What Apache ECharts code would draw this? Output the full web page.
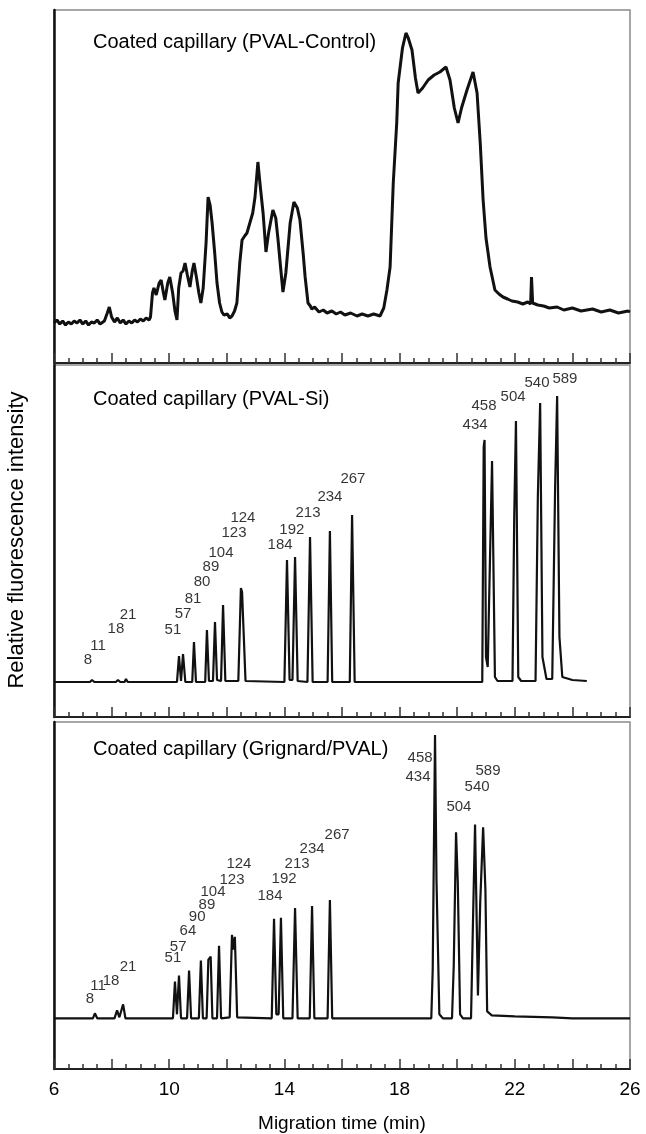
<!DOCTYPE html>
<html>
<head>
<meta charset="utf-8">
<script src="https://cdn.jsdelivr.net/npm/echarts@6/dist/echarts.min.js"></script>
<style>
html,body{margin:0;padding:0;background:#fff;}
#chart{width:646px;height:1134px;}
</style>
</head>
<body>
<div id="chart"></div>
<script>
// ---- data (migration time in min, relative intensity in arbitrary units) ----
const panelTitles = ['Coated capillary (PVAL-Control)', 'Coated capillary (PVAL-Si)', 'Coated capillary (Grignard/PVAL)'];
const xTickLabels = [6, 10, 14, 18, 22, 26];
const xAxisTitle = 'Migration time (min)';
const yAxisTitle = 'Relative fluorescence intensity';

const controlTrace = [
 [6.0,40],[6.1,43],[6.2,39],[6.3,42],[6.4,38],[6.5,41],[6.6,39],[6.7,42],[6.8,40],[6.9,43],[7.0,39],[7.1,42],[7.2,38],[7.3,41],
 [7.4,40],[7.5,43],[7.6,39],[7.75,42],[7.85,50],[7.92,56],[8.0,46],[8.1,41],[8.2,45],[8.3,40],[8.4,43],[8.5,39],[8.6,42],
 [8.7,40],[8.8,43],[8.9,41],[9.0,44],[9.1,42],[9.2,45],[9.3,43],[9.35,46],[9.42,70],[9.47,75],[9.55,68],[9.65,80],[9.72,83],
 [9.8,70],[9.85,63],[9.95,80],[10.02,86],[10.12,70],[10.2,52],[10.27,43],[10.33,75],[10.41,90],[10.48,92],[10.55,100],[10.63,88],
 [10.72,76],[10.8,92],[10.86,100],[10.95,85],[11.03,70],[11.1,60],[11.18,75],[11.28,120],[11.35,166],[11.42,158],[11.49,140],
 [11.58,110],[11.66,80],[11.75,60],[11.83,51],[11.9,48],[11.95,46],[12.02,49],[12.1,45],[12.18,47],[12.27,52],[12.35,60],
 [12.45,100],[12.53,123],[12.62,127],[12.70,130],[12.8,140],[12.9,150],[12.98,166],[13.08,201],[13.15,180],[13.26,150],
 [13.36,111],[13.45,130],[13.6,153],[13.7,145],[13.78,123],[13.87,95],[13.95,71],[14.05,90],[14.2,140],[14.33,161],[14.45,155],
 [14.54,143],[14.65,110],[14.72,86],[14.82,60],[14.9,57],[14.95,54],[15.05,56],[15.2,51],[15.35,53],[15.48,50],[15.65,52],
 [15.8,49],[15.95,51],[16.1,48],[16.3,50],[16.52,47],[16.7,49],[16.9,47],[17.1,49],[17.32,47],[17.45,55],[17.56,73],[17.67,96],
 [17.78,180],[17.9,240],[17.95,280],[18.1,315],[18.22,330],[18.3,325],[18.43,313],[18.55,285],[18.64,270],[18.8,275],[18.99,283],
 [19.2,288],[19.4,291],[19.61,296],[19.75,283],[19.9,255],[20.03,240],[20.15,255],[20.34,273],[20.55,291],[20.69,270],[20.8,220],
 [20.9,163],[21.0,125],[21.14,96],[21.31,73],[21.45,69],[21.59,66],[21.75,64],[21.9,62],[22.1,61],[22.28,59],[22.45,61],
 [22.55,59],[22.58,86],[22.62,60],[22.8,58],[23.0,57],[23.2,55],[23.47,56],[23.7,53],[24.0,55],[24.3,52],[24.7,54],[25.0,51],
 [25.3,53],[25.6,50],[25.93,52],[26.0,51]
];

const siTrace = [
 [6,35],[7.25,35],[7.32,37],[7.4,35],[8.15,35],[8.22,37],[8.3,35],[8.45,35],[8.5,38],[8.56,35],[10.27,35],[10.34,61],[10.41,36],
 [10.48,63],[10.56,35],[10.8,35],[10.86,75],[10.93,35],[11.25,35],[11.31,87],[11.38,36],[11.52,36],[11.59,95],[11.66,37],[11.8,36],
 [11.87,112],[11.95,36],[12.4,36],[12.49,129],[12.53,125],[12.57,127],[12.65,36],[14.0,35],[14.09,157],[14.18,37],[14.28,37],
 [14.37,160],[14.46,36],[14.8,35],[14.89,180],[14.98,35],[15.5,35],[15.58,186],[15.66,35],[16.27,35],[16.35,202],[16.44,35],
 [20.87,35],[20.92,270],[20.95,277],[21.0,60],[21.06,50],[21.21,256],[21.31,40],[21.4,36],[21.92,36],[21.98,200],[22.04,296],
 [22.12,40],[22.22,36],[22.72,36],[22.8,220],[22.88,314],[22.96,60],[23.1,38],[23.3,38],[23.4,230],[23.47,321],[23.55,80],
 [23.65,40],[24.0,37],[24.5,36]
];

const grignardTrace = [
 [6,51],[7.35,51],[7.42,56],[7.5,51],[8.1,51],[8.19,59],[8.27,52],[8.33,52],[8.4,65],[8.48,51],[10.13,51],[10.2,88],[10.27,55],
 [10.34,94],[10.41,51],[10.62,51],[10.69,99],[10.76,51],[11.03,51],[11.1,109],[11.17,51],[11.3,51],[11.36,110],[11.4,108],
 [11.44,113],[11.5,51],[11.66,51],[11.73,124],[11.8,51],[12.1,52],[12.18,135],[12.23,120],[12.28,133],[12.36,52],[13.56,51],
 [13.64,151],[13.72,55],[13.8,55],[13.88,152],[13.96,51],[14.28,51],[14.37,162],[14.46,51],[14.88,51],[14.96,164],[15.04,51],
 [15.5,51],[15.58,170],[15.66,51],[19.1,51],[19.15,100],[19.23,336],[19.28,191],[19.38,55],[19.5,51],[19.82,51],[19.88,104],
 [19.96,238],[20.02,188],[20.1,55],[20.2,51],[20.48,51],[20.55,151],[20.62,246],[20.72,74],[20.8,168],[20.9,243],[20.98,180],
 [21.04,58],[21.2,54],[22.0,53],[23.3,52],[24,51],[26,51]
];

const siLabels = [
 [7.18,57,'8'],[7.53,71,'11'],[8.15,88,'18'],[8.57,102,'21'],[10.13,87,'51'],[10.48,103,'57'],[10.83,118,'81'],[11.14,135,'80'],
 [11.45,150,'89'],[11.8,164,'104'],[12.25,184,'123'],[12.56,199,'124'],[13.85,172,'184'],[14.26,187,'192'],[14.82,204,'213'],
 [15.58,220,'234'],[16.38,238,'267'],[20.62,292,'434'],[20.93,311,'458'],[21.94,320,'504'],[22.77,334,'540'],[23.74,338,'589']
];

const grignardLabels = [
 [7.25,71,'8'],[7.53,84,'11'],[7.98,89,'18'],[8.57,103,'21'],[10.13,112,'51'],[10.31,123,'57'],[10.65,139,'64'],[10.97,153,'90'],
 [11.31,165,'89'],[11.52,178,'104'],[12.18,190,'123'],[12.42,206,'124'],[13.5,174,'184'],[13.99,191,'192'],[14.44,206,'213'],
 [14.96,221,'234'],[15.83,235,'267'],[18.71,313,'458'],[18.64,294,'434'],[20.06,264,'504'],[20.69,284,'540'],[21.07,300,'589']
];

// ---- chart ----
const FONT = '"Liberation Sans", Arial, Helvetica, sans-serif';
const gridsPos = [
  {top: 10, height: 353},
  {top: 365, height: 352},
  {top: 722, height: 349}
];
const traces = [controlTrace, siTrace, grignardTrace];
const labelSets = [[], siLabels, grignardLabels];

const grid = gridsPos.map(g => ({
  left: 54, right: 16, top: g.top, height: g.height,
  show: true, borderColor: '#8a8a8a', borderWidth: 1.5, backgroundColor: 'transparent'
}));

const xAxis = gridsPos.map((g, i) => ({
  gridIndex: i, type: 'value', min: 6, max: 26, interval: 2,
  axisLine: {show: true, lineStyle: {color: '#222', width: 2}},
  axisTick: {show: true, inside: true, length: 10, lineStyle: {color: '#333', width: 1.5}},
  minorTick: {show: true, splitNumber: 4, length: 5, lineStyle: {color: '#333', width: 1.5}},
  splitLine: {show: false}, minorSplitLine: {show: false},
  axisLabel: {
    show: i === 2, margin: 11, color: '#000', fontSize: 19, fontFamily: FONT,
    formatter: v => xTickLabels.indexOf(v) >= 0 ? String(v) : ''
  },
  name: i === 2 ? xAxisTitle : '', nameLocation: 'middle', nameGap: 45,
  nameTextStyle: {color: '#000', fontSize: 19, fontFamily: FONT}
}));

const yAxis = gridsPos.map((g, i) => ({
  gridIndex: i, type: 'value', min: 0, max: g.height,
  axisLine: {show: true, lineStyle: {color: '#111', width: 2.5}},
  axisTick: {show: false}, axisLabel: {show: false}, splitLine: {show: false}
}));

const series = [];
traces.forEach((tr, i) => {
  series.push({
    type: 'line', xAxisIndex: i, yAxisIndex: i, data: tr, showSymbol: false, symbol: 'none',
    lineStyle: {color: '#111', width: i === 0 ? 3 : 2.2}, silent: true, z: 3
  });
  if (labelSets[i].length) {
    series.push({
      type: 'scatter', xAxisIndex: i, yAxisIndex: i, data: labelSets[i], symbolSize: 0,
      itemStyle: {color: '#000'}, silent: true, z: 4,
      label: {show: true, position: 'inside', formatter: p => p.value[2], color: '#000',
               textBorderWidth: 0, fontSize: 15, fontFamily: FONT}
    });
  }
});

const graphic = [
  {type: 'text', left: 93, top: 32, style: {text: panelTitles[0], fontSize: 20, fontFamily: FONT, fill: '#000'}},
  {type: 'text', left: 93, top: 389, style: {text: panelTitles[1], fontSize: 20, fontFamily: FONT, fill: '#000'}},
  {type: 'text', left: 93, top: 739, style: {text: panelTitles[2], fontSize: 20, fontFamily: FONT, fill: '#000'}},
  {type: 'text', x: 17, y: 540, rotation: Math.PI / 2,
   style: {text: yAxisTitle, fontSize: 22, fontFamily: FONT, fill: '#000', align: 'center', verticalAlign: 'middle'}}
];

const chart = echarts.init(document.getElementById('chart'), null, {renderer: 'canvas'});
chart.setOption({
  animation: false, backgroundColor: '#fff',
  grid, xAxis, yAxis, series, graphic
});
</script>
</body>
</html>
